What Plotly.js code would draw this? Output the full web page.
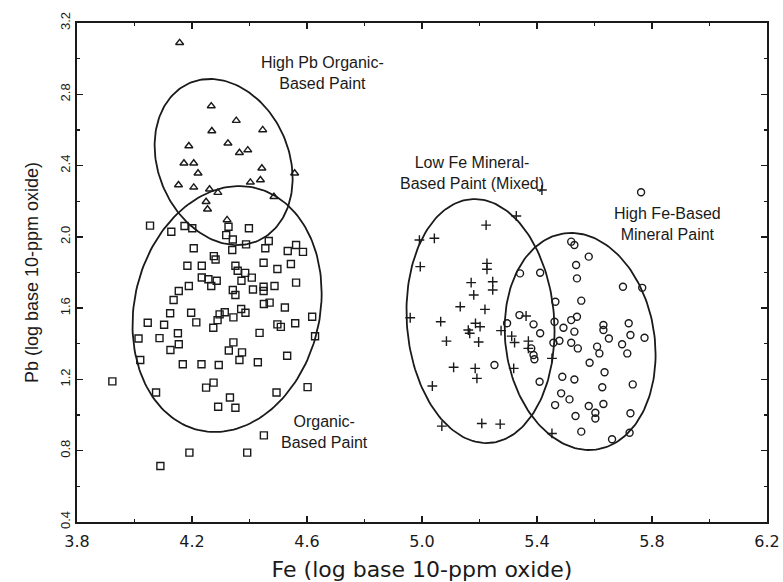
<!DOCTYPE html>
<html>
<head>
<meta charset="utf-8">
<script src="https://cdn.plot.ly/plotly-3.0.1.min.js"></script>
<style>html,body{margin:0;padding:0;background:#fff;}#chart{width:783px;height:582px;}</style>
</head>
<body>
<div id="chart"></div>
<script>
// High Pb organic-based paint (triangles)
const triFe = [4.157,4.267,4.354,4.269,4.446,4.189,4.325,4.365,4.394,4.172,4.206,4.221,4.443,4.557,4.153,4.206,4.403,4.438,4.261,4.290,4.485,4.249,4.254,4.322];
const triPb = [3.089,2.734,2.652,2.594,2.600,2.510,2.525,2.472,2.487,2.413,2.413,2.357,2.385,2.357,2.291,2.278,2.306,2.319,2.267,2.248,2.225,2.197,2.155,2.095];

// Organic-based paint (squares)
const sqFe = [4.054,4.128,4.174,4.201,4.206,4.319,4.327,4.398,4.342,4.340,4.388,4.455,4.467,4.533,4.562,4.586,4.276,4.282,4.184,4.234,
  4.351,4.449,4.497,4.544,4.359,4.385,4.408,4.372,4.234,4.257,4.286,4.267,4.189,4.154,4.412,4.449,4.449,4.487,4.562,4.342,
  4.351,4.136,4.450,4.470,4.124,4.197,4.215,4.296,4.314,4.289,4.344,4.371,4.386,4.523,4.618,4.046,4.103,4.274,4.497,4.509,
  4.559,4.014,4.087,4.151,4.435,4.628,4.154,4.125,4.344,4.328,4.374,4.365,4.429,4.531,4.020,4.168,4.233,4.293,3.923,4.075,
  4.275,4.249,4.494,4.602,4.332,4.291,4.351,4.450,4.191,4.392,4.090];
const sqPb = [2.063,2.029,2.061,2.048,1.936,2.010,2.057,2.048,1.985,1.926,1.958,1.936,1.977,1.921,1.954,1.916,1.892,1.873,1.838,1.838,
  1.838,1.855,1.820,1.848,1.810,1.798,1.771,1.754,1.772,1.762,1.754,1.724,1.724,1.696,1.705,1.720,1.696,1.724,1.743,1.702,
  1.674,1.646,1.623,1.631,1.571,1.574,1.520,1.565,1.577,1.533,1.548,1.595,1.574,1.604,1.552,1.518,1.507,1.490,1.509,1.495,
  1.515,1.430,1.432,1.459,1.461,1.442,1.397,1.365,1.408,1.362,1.352,1.309,1.296,1.333,1.309,1.285,1.285,1.281,1.189,1.127,
  1.182,1.154,1.127,1.157,1.099,1.047,1.041,0.886,0.789,0.789,0.714];

// Low Fe mineral-based paint, mixed (plus)
const plusFe = [5.417,5.328,5.223,4.991,5.043,4.994,5.226,5.226,5.171,5.246,5.246,5.180,5.133,5.219,4.959,5.065,5.186,5.202,5.161,5.166,
  5.275,5.085,5.197,5.312,5.322,5.370,5.370,5.452,5.110,5.185,5.191,5.319,5.036,5.069,5.208,5.272,5.452,5.362];
const plusPb = [2.263,2.117,2.066,1.982,1.992,1.833,1.851,1.818,1.743,1.748,1.702,1.674,1.608,1.593,1.546,1.524,1.515,1.496,1.477,1.459,
  1.474,1.415,1.410,1.443,1.407,1.415,1.374,1.318,1.268,1.262,1.206,1.262,1.163,0.938,0.953,0.949,0.897,1.556];

// High Fe-based mineral paint (circles)
const circFe = [5.762,5.519,5.530,5.580,5.536,5.341,5.411,5.539,5.699,5.766,5.464,5.554,5.339,5.388,5.411,5.296,5.461,5.492,5.519,5.539,
  5.530,5.631,5.631,5.650,5.719,5.725,5.774,5.696,5.714,5.457,5.478,5.519,5.542,5.609,5.617,5.583,5.380,5.388,5.391,5.409,
  5.488,5.530,5.635,5.733,5.627,5.484,5.513,5.463,5.631,5.580,5.603,5.603,5.534,5.725,5.554,5.661,5.722,5.252];
const circPb = [2.250,1.973,1.954,1.889,1.842,1.795,1.799,1.767,1.720,1.714,1.636,1.642,1.561,1.509,1.459,1.515,1.524,1.490,1.533,1.552,
  1.468,1.505,1.477,1.430,1.515,1.449,1.434,1.397,1.346,1.406,1.417,1.406,1.374,1.384,1.346,1.294,1.374,1.337,1.313,1.187,
  1.215,1.200,1.240,1.172,1.156,1.122,1.088,1.056,1.062,1.051,1.013,0.981,0.995,1.010,0.907,0.864,0.901,1.281];

// Group ellipses: centre, semi-axes (data units) and phase tilt
const ellCx = [4.310, 4.322, 5.2035, 5.550];
const ellCy = [2.420, 1.595, 1.5275, 1.413];
const ellRx = [0.240, 0.329, 0.2575, 0.2625];
const ellRy = [0.466, 0.690, 0.6845, 0.609];
const ellTilt = [-0.20, 0.13, -0.08, -0.12];

// Labels
const groupLabels = ["High Pb Organic-<br>Based Paint", "Organic-<br>Based Paint", "Low Fe Mineral-<br>Based Paint (Mixed)", "High Fe-Based<br>Mineral Paint"];
const labelFe = [4.654, 4.661, 5.174, 5.854];
const labelPb = [2.919, 0.905, 2.361, 2.072];

const ink = '#1a1a1a';
const traces = [];
for (let k = 0; k < ellCx.length; k++) {
  const xs = [], ys = [];
  for (let i = 0; i <= 180; i++) {
    const t = 2 * Math.PI * i / 180;
    xs.push(ellCx[k] + ellRx[k] * Math.cos(t));
    ys.push(ellCy[k] + ellRy[k] * Math.sin(t + ellTilt[k]));
  }
  traces.push({x: xs, y: ys, mode: 'lines', line: {color: ink, width: 1.8}, hoverinfo: 'skip', showlegend: false});
}
const mk = (sym, size) => ({symbol: sym, size: size, color: ink, line: {color: ink, width: 1.4}});
traces.push({x: triFe, y: triPb, mode: 'markers', marker: mk('triangle-up-open', 7), showlegend: false});
traces.push({x: sqFe, y: sqPb, mode: 'markers', marker: mk('square-open', 7), showlegend: false});
traces.push({x: plusFe, y: plusPb, mode: 'markers', marker: mk('cross-thin-open', 7), showlegend: false});
traces.push({x: circFe, y: circPb, mode: 'markers', marker: mk('circle-open', 7), showlegend: false});

const annotations = groupLabels.map((t, i) => ({
  text: t, x: labelFe[i], y: labelPb[i], xref: 'x', yref: 'y', showarrow: false,
  font: {family: 'Liberation Sans, Arial, sans-serif', size: 16, color: ink}, align: 'center'
}));

const axisCommon = {
  showgrid: false, zeroline: false, showline: true, linecolor: ink, linewidth: 2, mirror: 'ticks',
  ticks: 'inside', ticklen: 6, tickwidth: 1.5, tickcolor: ink, tickformat: '.1f',
  minor: {dtick: 0.2, ticks: 'inside', ticklen: 3, tickwidth: 1.2, tickcolor: ink, showgrid: false}
};

const layout = {
  width: 783, height: 582,
  margin: {l: 77, r: 16, t: 23, b: 60},
  paper_bgcolor: '#fff', plot_bgcolor: '#fff',
  font: {family: 'Liberation Sans, Arial, sans-serif', color: ink},
  xaxis: Object.assign({}, axisCommon, {
    range: [3.8, 6.2], tick0: 3.8, dtick: 0.4, ticklabelstandoff: 4,
    tickfont: {family: 'DejaVu Sans, sans-serif', size: 16, color: ink},
    title: {text: 'Fe (log base 10-ppm oxide)', font: {family: 'DejaVu Sans, sans-serif', size: 22, color: ink}, standoff: 12}
  }),
  yaxis: Object.assign({}, axisCommon, {
    range: [0.4, 3.2], tick0: 0.4, dtick: 0.4, tickangle: -90,
    tickfont: {family: 'Liberation Sans, Arial, sans-serif', size: 13, color: ink},
    title: {text: 'Pb (log base 10-ppm oxide)', font: {family: 'Liberation Sans, Arial, sans-serif', size: 18, color: ink}, standoff: 14}
  }),
  annotations: annotations
};

Plotly.newPlot('chart', traces, layout, {displayModeBar: false, staticPlot: true});
</script>
</body>
</html>
